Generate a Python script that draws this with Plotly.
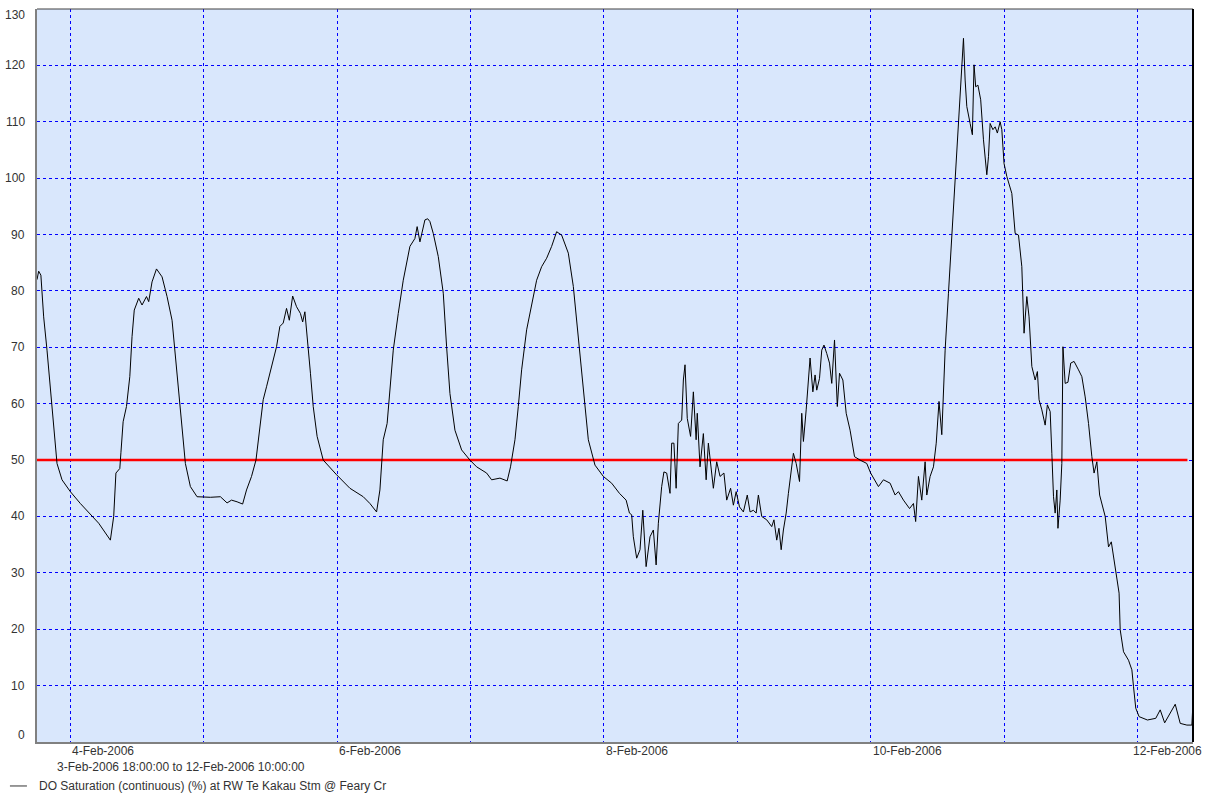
import pandas as pd
import plotly.graph_objects as go

# ---- data (hours since 3-Feb-2006 18:00, DO saturation %) ----
start = pd.Timestamp("2006-02-03 18:00:00")
end = pd.Timestamp("2006-02-12 10:00:00")

hours = [
    0, 0.3, 0.7, 1.2, 1.8, 2.4, 3.0, 3.6, 4.5, 6.0, 7.8, 9.6, 11.1, 13.2, 13.8, 14.2, 14.9, 15.1, 15.5, 16.1,
    16.7, 17.1, 17.5, 18.3, 18.9, 19.7, 20.1, 20.7, 21.5, 22.5, 23.4, 24.3, 24.9, 25.5, 26.1, 26.7, 27.6, 28.8,
    31.2, 33.0, 34.2, 35.0, 36.0, 37.0,
    37.7, 38.6, 39.4, 40.1, 40.7, 41.3, 42.2, 43.1, 43.7, 44.3, 44.9, 45.4, 46.0, 46.7, 47.4, 47.8, 48.2, 48.6,
    49.2, 49.7, 50.4, 51.5, 53.9, 56.3, 58.7, 59.9, 61.1, 61.7, 62.3, 63.0, 63.5, 64.1, 65.0, 65.9, 67.1, 68.0,
    68.4, 68.9, 69.8, 70.3, 70.7,
    71.3, 72.2, 73.1, 73.7, 74.3, 75.2, 76.4, 77.9, 79.1, 80.9, 81.8, 83.3, 84.6, 85.2, 86.0, 86.6, 87.2, 88.1,
    89.0, 89.9, 90.8, 91.7, 92.6, 93.5, 94.4, 95.6, 96.5, 97.4, 98.3, 99.2, 100.4, 101.9, 103.4, 104.8,
    106.0, 106.6, 107.0, 107.3, 107.9, 108.5, 109.0, 109.6, 110.3, 110.9, 111.4, 111.8, 112.4, 112.8, 113.3,
    113.9, 114.2, 114.6, 115.0, 115.4, 116.0, 116.3, 116.6, 117.0, 117.6, 118.1, 118.6, 118.8, 119.3, 119.9,
    120.4, 120.8, 121.7, 122.3, 122.9, 123.6, 124.1, 124.8, 125.3, 125.8, 126.4, 127.1, 127.8, 128.3, 128.9,
    129.4, 129.8, 130.4, 131.3, 132.2, 132.6, 133.1, 133.5, 133.9, 134.3, 134.8, 135.2, 135.8, 136.1, 136.6,
    137.2, 137.6, 137.9, 138.4, 138.8, 139.1, 139.6, 140.0, 140.3, 140.8, 141.2, 141.6, 142.1, 142.6, 143.0,
    143.5, 144.0, 144.4,
    145.0, 145.6, 146.3, 147.1, 148.1, 149.3, 150.0, 151.4, 152.3, 153.5, 154.4, 155.0, 155.9, 157.0, 157.7,
    158.1, 158.6, 159.2, 159.8, 160.1, 160.7, 161.3, 161.8, 162.3, 162.8, 163.4, 164.0, 164.6, 165.2, 165.8,
    166.4, 166.7,
    167.0, 167.3, 167.9, 168.3, 168.6, 168.9, 169.3, 169.8, 170.3, 170.9, 171.2, 171.5, 172.0, 172.4, 172.8,
    173.3, 173.6, 174.0, 174.5, 175.4, 176.0, 176.6, 177.2, 177.6, 178.1, 178.5, 179.0, 179.6, 180.0, 180.3,
    180.8, 181.4, 181.8, 182.3, 182.6, 182.9, 183.2, 183.5, 183.7, 184.1, 184.4, 184.6, 185.0, 185.5, 186.0,
    186.6, 187.4, 188.0, 188.6, 189.2, 189.8, 190.2, 190.7, 191.2,
    192.2, 192.8, 193.3, 194.1, 194.7, 194.9, 195.5, 196.4, 197.0, 197.3, 197.7, 198.3, 199.8, 201.3, 202.1,
    202.9, 203.9, 204.8, 205.7, 206.9, 207.8, 208.0,
]

do_sat = [
    82.0, 83.5, 82.8, 75.4, 69.5, 62.4, 55.3, 49.4, 46.5, 44.4, 42.3, 40.3, 38.8, 35.8, 40.0, 47.7, 48.5, 51.3, 56.8, 59.5,
    64.8, 71.9, 76.6, 78.7, 77.5, 79.0, 78.1, 81.6, 83.9, 82.5, 79.0, 74.8, 68.3, 61.2, 55.3, 49.4, 45.3, 43.5,
    43.4, 43.5, 42.4, 42.9, 42.6, 42.2,
    44.7, 47.1, 50.0, 55.9, 60.7, 63.0, 66.6, 70.1, 73.7, 74.3, 76.9, 74.8, 79.1, 77.2, 76.0, 74.5, 76.3, 71.3,
    65.4, 59.5, 54.2, 50.0, 47.4, 45.0, 43.5, 42.3, 40.8, 44.7, 53.6, 56.5, 63.0, 69.5, 76.0, 81.9, 87.9, 89.3,
    91.4, 88.7, 92.6, 92.8, 92.3,
    90.2, 86.1, 79.6, 70.1, 61.8, 55.3, 51.8, 50.0, 48.8, 47.7, 46.5, 46.8, 46.3, 48.8, 53.6, 59.5, 66.0, 73.1,
    77.8, 81.9, 84.3, 85.8, 87.9, 90.5, 89.9, 86.7, 80.8, 71.9, 61.8, 53.6, 49.1, 47.1, 45.9, 44.1,
    42.9, 40.6, 40.3, 36.4, 32.6, 34.1, 41.1, 31.1, 36.4, 37.6, 31.4, 38.8, 45.3, 47.9, 47.7,
    44.1, 53.0, 53.0, 45.0, 56.5, 57.1, 64.2, 66.9, 57.4, 54.2, 62.1, 53.6, 58.3, 48.8, 54.7,
    46.5, 53.0, 45.0, 49.7, 47.1, 47.7, 42.9, 45.0, 42.0, 44.4, 41.7, 40.8, 43.8, 40.8, 41.1,
    40.6, 43.8, 40.0, 39.4, 38.2, 39.4, 35.8, 37.9, 34.1, 37.6, 40.6, 44.1, 49.4, 51.2, 49.4,
    46.2, 58.3, 53.3, 58.9, 64.8, 68.1, 62.1, 65.1, 62.4, 64.5, 69.5, 70.4, 68.9, 67.2, 63.6,
    71.3, 59.5, 65.4,
    64.2, 58.3, 55.3, 50.6, 50.0, 49.4, 47.7, 45.3, 46.5, 45.9, 43.8, 44.4, 42.9, 41.4, 42.3,
    39.1, 47.1, 42.9, 49.7, 43.8, 47.1, 48.8, 53.0, 60.4, 54.5, 69.5, 79.6, 89.6, 100.3, 110.3,
    120.4, 124.8,
    117.4, 112.7, 109.7, 107.7, 120.1, 116.2, 116.5, 113.9, 106.8, 100.6, 103.8, 109.7, 108.6, 109.1, 108.0,
    110.0, 108.6, 102.6, 100.3, 97.3, 90.2, 89.9, 84.3, 72.5, 79.0, 75.4, 66.6, 64.2, 65.7, 60.7,
    58.9, 56.2, 59.8, 58.6, 51.2, 43.5, 40.6, 44.7, 37.9, 42.9, 49.4, 70.1, 63.6, 63.8, 67.2,
    67.5, 66.0, 64.8, 61.2, 56.5, 50.6, 47.7, 49.7, 43.8,
    40.0, 34.6, 35.5, 29.9, 26.4, 19.9, 16.0, 14.5, 12.8, 9.8, 6.0, 4.5, 3.9, 4.2, 5.7,
    3.4, 5.1, 6.7, 3.3, 3.0, 3.0, 7.1,
]

threshold_hours = [0, 207.0]
threshold_vals = [50, 50]

day_ticks = pd.date_range("2006-02-04", "2006-02-12", freq="D")
label_days = pd.date_range("2006-02-04", "2006-02-12", freq="2D")
y_ticks = list(range(0, 131, 10))

period_text = "3-Feb-2006 18:00:00 to 12-Feb-2006 10:00:00"
series_name = "DO Saturation (continuous) (%) at RW Te Kakau Stm @ Feary Cr"

times = start + pd.to_timedelta(hours, unit="h")
thr_times = start + pd.to_timedelta(threshold_hours, unit="h")

FONT = "Liberation Sans, Arial, sans-serif"
TXT = "#333333"

fig = go.Figure()
fig.add_trace(go.Scatter(x=thr_times, y=threshold_vals, mode="lines",
                         line=dict(color="#FF0000", width=2.5), showlegend=False, hoverinfo="skip"))
fig.add_trace(go.Scatter(x=times, y=do_sat, mode="lines", name=series_name,
                         line=dict(color="#000000", width=1), showlegend=False))

fig.update_layout(
    width=1206, height=793,
    margin=dict(l=37, r=13, t=9, b=51),
    paper_bgcolor="white",
    plot_bgcolor="#D9E7FC",
    font=dict(family=FONT, size=12, color=TXT),
    xaxis=dict(
        type="date", range=[start, end], automargin=False,
        tickvals=list(day_ticks), showticklabels=False, ticks="",
        showgrid=True, gridcolor="#0000FF", gridwidth=1, griddash="3px,3px",
        showline=True, linecolor="#808080", linewidth=2, zeroline=False,
    ),
    yaxis=dict(
        range=[0, 130], tickvals=y_ticks, showticklabels=False, ticks="", automargin=False,
        showgrid=True, gridcolor="#0000FF", gridwidth=1, griddash="3px,3px",
        showline=True, linecolor="#808080", linewidth=2, zeroline=False,
    ),
    shapes=[
        dict(type="line", xref="paper", yref="paper", x0=0, x1=1, y0=1, y1=1,
             line=dict(color="#404040", width=1)),
        dict(type="line", xref="paper", yref="paper", x0=1, x1=1, y0=0, y1=1,
             line=dict(color="#000000", width=2)),
        dict(type="line", xref="paper", yref="paper", x0=-0.0234, x1=-0.0087, y0=-0.060, y1=-0.060,
             line=dict(color=TXT, width=1)),
    ],
)

annotations = []
for v in y_ticks:
    shift = 7 if v == y_ticks[0] else (-6 if v == y_ticks[-1] else 0)
    annotations.append(dict(x=-0.0087, xref="paper", y=v, yref="y", text=str(v),
                            showarrow=False, xanchor="right", yanchor="middle", yshift=shift,
                            font=dict(size=12, color=TXT)))
for i, d in enumerate(label_days):
    last = i == len(label_days) - 1
    annotations.append(dict(x=d, xref="x", y=-0.0125, yref="paper", text=d.strftime("%-d-%b-%Y"),
                            showarrow=False, xanchor="left", yanchor="middle",
                            xshift=-6 if last else 0,
                            font=dict(size=12, color=TXT)))
annotations.append(dict(x=0.0156, xref="paper", y=-0.0341, yref="paper", text=period_text,
                        showarrow=False, xanchor="left", yanchor="middle",
                        font=dict(size=12, color=TXT)))
annotations.append(dict(x=0.0, xref="paper", y=-0.060, yref="paper", text=series_name,
                        showarrow=False, xanchor="left", yanchor="middle",
                        font=dict(size=12, color=TXT)))
fig.update_layout(annotations=annotations)

fig.write_html("out.html")
